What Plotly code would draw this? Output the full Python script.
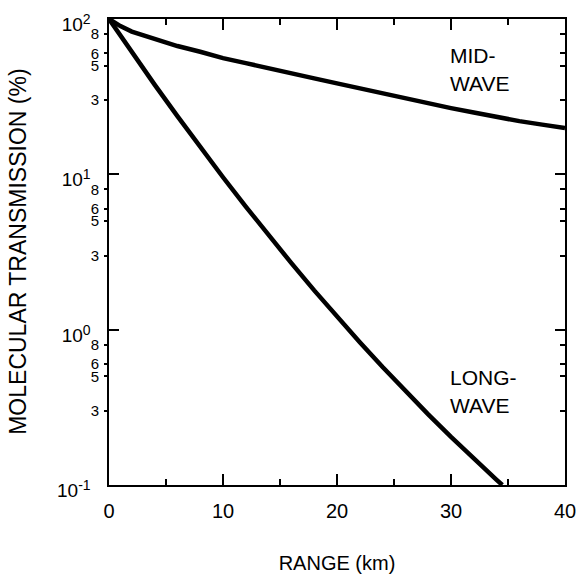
import math
import plotly.graph_objects as go

# Range (km) vs molecular transmission (%)
mid_range = [0, 1, 2, 4, 6, 8, 10, 12, 14, 16, 18, 20, 22, 24, 26, 28, 30, 32, 34, 36, 38, 40]
mid_trans = [100, 90, 83, 74, 67, 61.5, 56, 52, 48, 44.5, 41.5, 38.5, 35.7, 33, 30.7, 28.6, 26.7, 25, 23.4, 22, 20.9, 19.9]

long_range = [0, 2, 4, 6, 8, 10, 12, 14, 16, 18, 20, 22, 24, 26, 28, 30, 32, 34, 34.5]
long_trans = [100, 61.2, 37.8, 23.7, 15.0, 9.58, 6.20, 4.05, 2.68, 1.79, 1.21, 0.831, 0.575, 0.402, 0.285, 0.204, 0.147, 0.108, 0.1]

x_ticks = [0, 10, 20, 30, 40]
major_y = [0.1, 1, 10, 100]
major_exp = ["-1", "0", "1", "2"]
minor_y = [0.3, 0.5, 0.6, 0.8, 3, 5, 6, 8, 30, 50, 60, 80]
minor_y_text = ["3", "5", "6", "8", "3", "5", "6", "8", "3", "5", "6", "8"]

labels = [("MID-", 29.74, 58.6), ("WAVE", 29.74, 38.7), ("LONG-", 29.74, 0.489), ("WAVE", 29.74, 0.327)]

FONT = "Liberation Sans, Arial, sans-serif"

major_y_text = ["&nbsp;<br><span style='font-size:19px'>10</span>"
                "<span style='font-size:14px;baseline-shift:7px'>" + e + "</span>" for e in major_exp]

fig = go.Figure()
fig.add_trace(go.Scatter(x=mid_range, y=mid_trans, mode="lines",
                         line=dict(color="black", width=4.5), showlegend=False, hoverinfo="skip"))
fig.add_trace(go.Scatter(x=long_range, y=long_trans, mode="lines",
                         line=dict(color="black", width=4.5), showlegend=False, hoverinfo="skip"))
# invisible traces for the minor-label axes
fig.add_trace(go.Scatter(x=[0], y=[1], yaxis="y2", mode="markers",
                         marker=dict(opacity=0), showlegend=False, hoverinfo="skip"))
fig.add_trace(go.Scatter(x=[0], y=[1], yaxis="y3", mode="markers",
                         marker=dict(opacity=0), showlegend=False, hoverinfo="skip"))

for txt, xv, yv in labels:
    fig.add_annotation(x=xv, y=math.log10(yv), text=txt, showarrow=False,
                       xanchor="left", yanchor="middle",
                       font=dict(family=FONT, size=21, color="black"))

# y-axis title
fig.add_annotation(xref="paper", yref="paper", x=-0.2, y=0.5, text="MOLECULAR TRANSMISSION (%)",
                   textangle=-90, showarrow=False, xanchor="center", yanchor="middle",
                   font=dict(family=FONT, size=23, color="black"))

fig.update_layout(
    width=578, height=574,
    margin=dict(l=109, r=13, t=19, b=89),
    paper_bgcolor="white", plot_bgcolor="white",
    font=dict(family=FONT, color="black"),
    xaxis=dict(
        range=[0, 40], tickvals=x_ticks, ticktext=[str(v) for v in x_ticks],
        ticks="inside", ticklen=11, tickwidth=2, tickcolor="black",
        minor=dict(dtick=5, ticks="inside", ticklen=6, tickwidth=2, tickcolor="black"),
        showline=True, linewidth=2, linecolor="black", mirror="ticks",
        showgrid=False, zeroline=False, ticklabelstandoff=7, automargin=False,
        tickfont=dict(size=20, family=FONT),
        title=dict(text="RANGE (km)", font=dict(size=20, family=FONT), standoff=36),
    ),
    yaxis=dict(
        type="log", range=[-1, 2], tickvals=major_y, ticktext=major_y_text,
        ticks="inside", ticklen=10, tickwidth=2, tickcolor="black",
        showline=True, linewidth=2, linecolor="black", mirror="ticks",
        showgrid=False, zeroline=False, ticklabelstandoff=14, automargin=False,
        ticklabeloverflow="allow",
        tickfont=dict(size=12, family=FONT),
    ),
    yaxis2=dict(
        type="log", range=[-1, 2], overlaying="y", side="left", anchor="x",
        tickvals=minor_y, ticktext=minor_y_text,
        ticks="outside", ticklen=4, tickwidth=2, tickcolor="black",
        showline=False, showgrid=False, zeroline=False, ticklabelstandoff=2, automargin=False,
        tickfont=dict(size=15, family=FONT),
    ),
    yaxis3=dict(
        type="log", range=[-1, 2], overlaying="y", side="right", anchor="x",
        tickvals=minor_y, showticklabels=False,
        ticks="inside", ticklen=5, tickwidth=2, tickcolor="black",
        showline=False, showgrid=False, zeroline=False, automargin=False,
    ),
)

fig.write_html("out.html")
